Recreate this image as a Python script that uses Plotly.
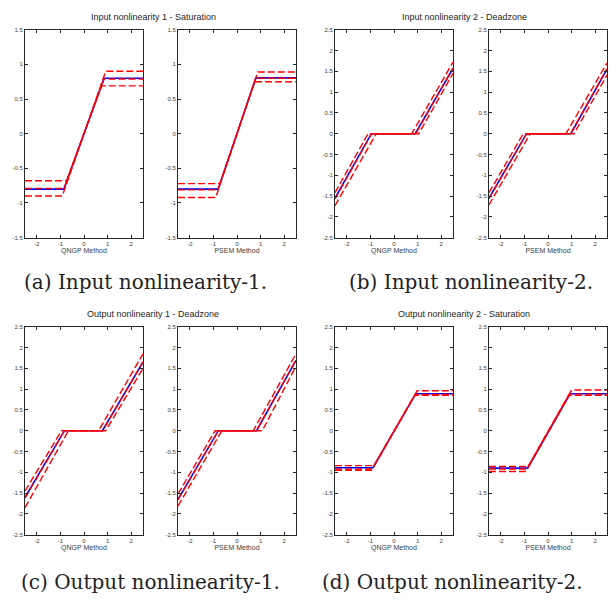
import plotly.graph_objects as go

# ---------------- data (breakpoints) ----------------
# Panel (a) Input nonlinearity 1 - Saturation, QNGP
a1_x_true = [-2.5, -0.85, 0.85, 2.5];  a1_y_true = [-0.80, -0.80, 0.80, 0.80]
a1_x_est  = [-2.5, -0.85, 0.85, 2.5];  a1_y_est  = [-0.79, -0.79, 0.79, 0.79]
a1_x_hi   = [-2.5, -0.92, 0.92, 2.5];  a1_y_hi   = [-0.90, -0.90, 0.90, 0.90]
a1_x_lo   = [-2.5, -0.74, 0.74, 2.5];  a1_y_lo   = [-0.68, -0.68, 0.69, 0.69]
# Panel (a) PSEM
a2_x_true = [-2.5, -0.80, 0.80, 2.5];  a2_y_true = [-0.80, -0.80, 0.805, 0.805]
a2_x_est  = [-2.5, -0.81, 0.80, 2.5];  a2_y_est  = [-0.81, -0.81, 0.80, 0.80]
a2_x_hi   = [-2.5, -0.90, 0.88, 2.5];  a2_y_hi   = [-0.92, -0.92, 0.89, 0.89]
a2_x_lo   = [-2.5, -0.72, 0.75, 2.5];  a2_y_lo   = [-0.72, -0.72, 0.75, 0.75]
# Panel (b) Input nonlinearity 2 - Deadzone, QNGP
b1_x_true = [-2.5, -0.96, 0.90, 2.5];  b1_y_true = [-1.55, 0, 0, 1.57]
b1_x_est  = [-2.5, -0.95, 0.92, 2.5];  b1_y_est  = [-1.57, 0, 0, 1.58]
b1_x_hi   = [-2.5, -1.10, 0.75, 2.5];  b1_y_hi   = [-1.42, 0, 0, 1.72]
b1_x_lo   = [-2.5, -0.75, 1.05, 2.5];  b1_y_lo   = [-1.73, 0, 0, 1.45]
# Panel (b) PSEM
b2_x_true = [-2.5, -0.91, 0.97, 2.5];  b2_y_true = [-1.55, 0, 0, 1.55]
b2_x_est  = [-2.5, -0.90, 0.95, 2.5];  b2_y_est  = [-1.56, 0, 0, 1.56]
b2_x_hi   = [-2.5, -1.05, 0.76, 2.5];  b2_y_hi   = [-1.42, 0, 0, 1.70]
b2_x_lo   = [-2.5, -0.75, 1.10, 2.5];  b2_y_lo   = [-1.71, 0, 0, 1.41]
# Panel (c) Output nonlinearity 1 - Deadzone, QNGP
c1_x_true = [-2.5, -0.83, 0.78, 2.5];  c1_y_true = [-1.60, 0, 0, 1.65]
c1_x_est  = [-2.5, -0.82, 0.79, 2.5];  c1_y_est  = [-1.62, 0, 0, 1.66]
c1_x_hi   = [-2.5, -0.95, 0.62, 2.5];  c1_y_hi   = [-1.45, 0, 0, 1.85]
c1_x_lo   = [-2.5, -0.66, 0.92, 2.5];  c1_y_lo   = [-1.85, 0, 0, 1.50]
# Panel (c) PSEM
c2_x_true = [-2.5, -0.79, 0.83, 2.5];  c2_y_true = [-1.65, 0, 0, 1.69]
c2_x_est  = [-2.5, -0.79, 0.82, 2.5];  c2_y_est  = [-1.66, 0, 0, 1.70]
c2_x_hi   = [-2.5, -0.93, 0.69, 2.5];  c2_y_hi   = [-1.52, 0, 0, 1.85]
c2_x_lo   = [-2.5, -0.64, 1.07, 2.5];  c2_y_lo   = [-1.81, 0, 0, 1.55]
# Panel (d) Output nonlinearity 2 - Saturation, QNGP
d1_x_true = [-2.5, -0.89, 0.92, 2.5];  d1_y_true = [-0.89, -0.89, 0.89, 0.89]
d1_x_est  = [-2.5, -0.92, 0.90, 2.5];  d1_y_est  = [-0.92, -0.92, 0.87, 0.87]
d1_x_hi   = [-2.5, -0.85, 0.98, 2.5];  d1_y_hi   = [-0.84, -0.84, 0.96, 0.96]
d1_x_lo   = [-2.5, -0.95, 0.88, 2.5];  d1_y_lo   = [-0.95, -0.95, 0.85, 0.85]
# Panel (d) PSEM
d2_x_true = [-2.5, -0.86, 0.94, 2.5];  d2_y_true = [-0.90, -0.90, 0.89, 0.89]
d2_x_est  = [-2.5, -0.88, 0.93, 2.5];  d2_y_est  = [-0.92, -0.92, 0.88, 0.88]
d2_x_hi   = [-2.5, -0.84, 1.00, 2.5];  d2_y_hi   = [-0.86, -0.86, 0.98, 0.98]
d2_x_lo   = [-2.5, -0.96, 0.87, 2.5];  d2_y_lo   = [-0.98, -0.98, 0.85, 0.85]

x_ticks = [-2, -1, 0, 1, 2]
y_ticks_a = [-1.5, -1, -0.5, 0, 0.5, 1, 1.5]
y_ticks_b = [-2.5, -2, -1.5, -1, -0.5, 0, 0.5, 1, 1.5, 2, 2.5]
methods = ["QNGP Method", "PSEM Method"]
titles = ["Input nonlinearity 1 - Saturation", "Input nonlinearity 2 - Deadzone",
          "Output nonlinearity 1 - Deadzone", "Output nonlinearity 2 - Saturation"]
captions = ["(a) Input nonlinearity-1.", "(b) Input nonlinearity-2.",
            "(c) Output nonlinearity-1.", "(d) Output nonlinearity-2."]

panels = [
    (a1_x_true, a1_y_true, a1_x_est, a1_y_est, a1_x_hi, a1_y_hi, a1_x_lo, a1_y_lo),
    (a2_x_true, a2_y_true, a2_x_est, a2_y_est, a2_x_hi, a2_y_hi, a2_x_lo, a2_y_lo),
    (b1_x_true, b1_y_true, b1_x_est, b1_y_est, b1_x_hi, b1_y_hi, b1_x_lo, b1_y_lo),
    (b2_x_true, b2_y_true, b2_x_est, b2_y_est, b2_x_hi, b2_y_hi, b2_x_lo, b2_y_lo),
    (c1_x_true, c1_y_true, c1_x_est, c1_y_est, c1_x_hi, c1_y_hi, c1_x_lo, c1_y_lo),
    (c2_x_true, c2_y_true, c2_x_est, c2_y_est, c2_x_hi, c2_y_hi, c2_x_lo, c2_y_lo),
    (d1_x_true, d1_y_true, d1_x_est, d1_y_est, d1_x_hi, d1_y_hi, d1_x_lo, d1_y_lo),
    (d2_x_true, d2_y_true, d2_x_est, d2_y_est, d2_x_hi, d2_y_hi, d2_x_lo, d2_y_lo),
]

# ---------------- layout geometry (pixels) ----------------
W, H = 610, 605
col_px = [(25, 143), (178, 296), (335, 453), (489, 607)]
row_px = [(27, 237), (327, 537)]

fig = go.Figure()
layout = dict(width=W, height=H, margin=dict(l=0, r=0, t=0, b=0),
              paper_bgcolor="white", plot_bgcolor="white", showlegend=False,
              font=dict(family="Liberation Sans, Arial, sans-serif", color="#262626"))
annotations = []

RED = "#ff0000"
BLUE = "#0000ff"
DASH = "7px,3px"

for i, p in enumerate(panels):
    group = i // 2          # a, b, c, d
    sub = i % 2             # QNGP / PSEM
    row = group // 2
    col = (group % 2) * 2 + sub
    k = i + 1
    xa = "x" if k == 1 else f"x{k}"
    ya = "y" if k == 1 else f"y{k}"
    xt, yt, xe, ye, xh, yh, xl, yl = p
    fig.add_trace(go.Scatter(x=xt, y=yt, mode="lines", line=dict(color=BLUE, width=1.6),
                             xaxis=xa, yaxis=ya))
    fig.add_trace(go.Scatter(x=xe, y=ye, mode="lines", line=dict(color=RED, width=1.4, dash=DASH),
                             xaxis=xa, yaxis=ya))
    fig.add_trace(go.Scatter(x=xh, y=yh, mode="lines", line=dict(color=RED, width=1.4, dash=DASH),
                             xaxis=xa, yaxis=ya))
    fig.add_trace(go.Scatter(x=xl, y=yl, mode="lines", line=dict(color=RED, width=1.4, dash=DASH),
                             xaxis=xa, yaxis=ya))
    x0, x1 = col_px[col]
    y0, y1 = row_px[row]
    yt_vals = y_ticks_a if group == 0 else y_ticks_b
    yr = [-1.5, 1.5] if group == 0 else [-2.5, 2.5]
    axis_common = dict(showline=True, linecolor="#262626", linewidth=1, mirror="ticks",
                       ticks="inside", ticklen=3, tickwidth=0.8, tickcolor="#262626",
                       showgrid=False, zeroline=False,
                       tickfont=dict(size=6, color="#404040"))
    layout["xaxis" if k == 1 else f"xaxis{k}"] = dict(
        domain=[x0 / W, x1 / W], anchor=ya, range=[-2.5, 2.5],
        tickmode="array", tickvals=x_ticks, ticktext=[str(v) for v in x_ticks],
        title=dict(text=methods[sub], font=dict(size=7, color="#404040"), standoff=2),
        **axis_common)
    layout["yaxis" if k == 1 else f"yaxis{k}"] = dict(
        domain=[1 - y1 / H, 1 - y0 / H], anchor=xa, range=yr,
        tickmode="array", tickvals=yt_vals, ticktext=[f"{v:g}" for v in yt_vals],
        **axis_common)

# group titles and captions
title_cx = [153, 464, 153, 464]
title_y = [14, 314]
cap_cx = [145, 471, 150, 452]
cap_y = [282, 585]
for g in range(4):
    r = g // 2
    annotations.append(dict(text=titles[g], x=title_cx[g] / W, y=1 - title_y[r] / H,
                            xref="paper", yref="paper", showarrow=False,
                            xanchor="center", yanchor="middle",
                            font=dict(size=9, color="#262626")))
    annotations.append(dict(text=captions[g], x=cap_cx[g] / W, y=1 - cap_y[r] / H,
                            xref="paper", yref="paper", showarrow=False,
                            xanchor="center", yanchor="middle",
                            font=dict(size=20, family="DejaVu Serif, Liberation Serif, serif",
                                      color="#222222")))
layout["annotations"] = annotations
fig.update_layout(**layout)
fig.write_html("out.html")
